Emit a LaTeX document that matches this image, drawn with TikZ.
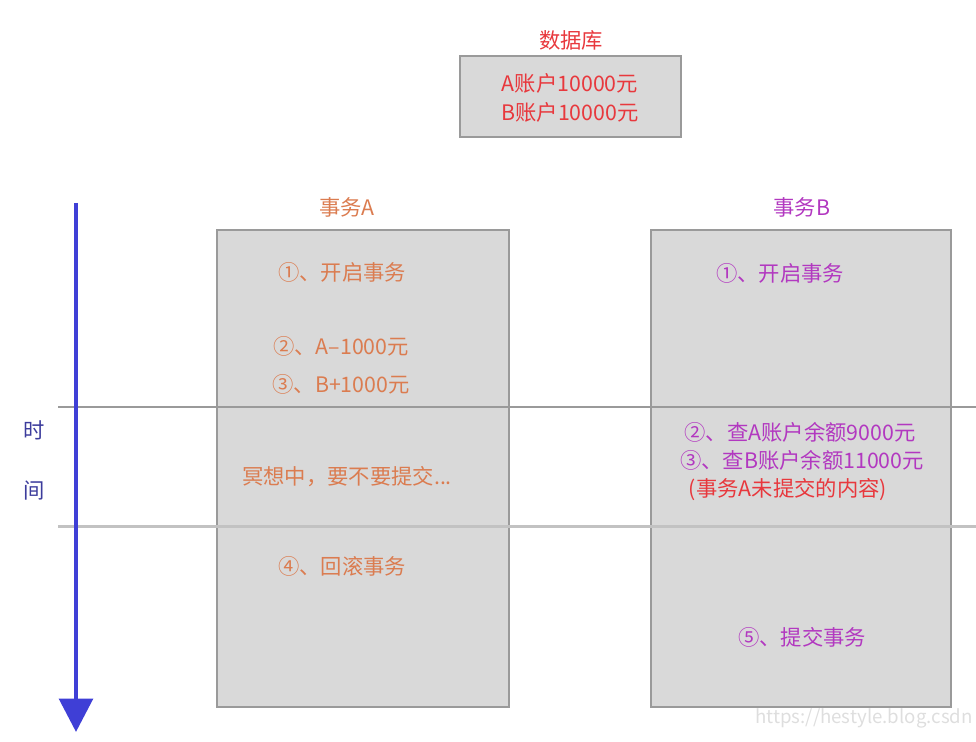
\documentclass[tikz,border=0pt]{standalone}
\usepackage{fontspec}
\setmainfont{Noto Sans CJK SC}
\usetikzlibrary{arrows.meta}
\definecolor{boxfill}{HTML}{D9D9D9}
\definecolor{boxline}{HTML}{9A9A9A}
\definecolor{ora}{HTML}{DB7C50}
\definecolor{pur}{HTML}{B238C0}
\definecolor{red1}{HTML}{E8383D}
\definecolor{arrowblue}{HTML}{3F3FD6}
\definecolor{timeblue}{HTML}{3C3C9C}
\tikzset{
  panel/.style={draw=boxline, fill=boxfill, line width=0.9pt},
  txt/.style={inner sep=0pt, font=\fontsize{16}{18}\selectfont},
  otxt/.style={txt, text=ora},
  ptxt/.style={txt, text=pur},
  rtxt/.style={txt, text=red1},
  sep/.style={draw=boxline, line width=0.8pt},
}
\begin{document}
\begin{tikzpicture}[x=0.75pt,y=-0.75pt]
\useasboundingbox (0,0) rectangle (976,742);
% database
\node[rtxt] (dbt) at (571,40) {数据库};
\draw[panel] (460,56) rectangle (681,137);
\node[rtxt] (dba) at (570,83) {A账户10000元};
\node[rtxt] (dbb) at (570,112) {B账户10000元};
% panels
\node[otxt] (ta) at (347,207) {事务A};
\node[ptxt] (tb) at (802,207) {事务B};
\draw[panel] (217,230) rectangle (509,707);
\draw[panel] (651,230) rectangle (951,707);
% separators
\draw[sep] (58,407) -- (976,407);
\draw[draw=boxline!60, line width=1.6pt] (58,526.5) -- (976,526.5);
% time arrow
\coordinate (t0) at (76,203);
\coordinate (t1) at (76,732);
\draw[arrowblue, line width=3.6pt, -{Triangle[length=25pt,width=25pt]}] (t0) -- (t1);
\node[txt, text=timeblue] (shi) at (34,430) {时};
\node[txt, text=timeblue] (jian) at (34,491) {间};
% transaction A
\node[otxt] (a1) at (342,272) {①、开启事务};
\node[otxt] (a2) at (341,346) {②、A–1000元};
\node[otxt] (a3) at (341,384) {③、B+1000元};
\node[otxt] (a4) at (347,477) {冥想中，要不要提交...};
\node[otxt] (a5) at (342,566) {④、回滚事务};
% transaction B
\node[ptxt] (b1) at (780,273) {①、开启事务};
\node[ptxt] (b2) at (800,432) {②、查A账户余额9000元};
\node[ptxt] (b3) at (802,460) {③、查B账户余额11000元};
\node[rtxt] (b4) at (788,490) {(事务A未提交的内容)};
\node[ptxt] (b5) at (802,637) {⑤、提交事务};
% watermark
\node[anchor=east, inner sep=0pt, text=black!13, font=\fontsize{14}{16}\selectfont] (wm) at (973,718) {https://hestyle.blog.csdn};
\end{tikzpicture}
\end{document}
